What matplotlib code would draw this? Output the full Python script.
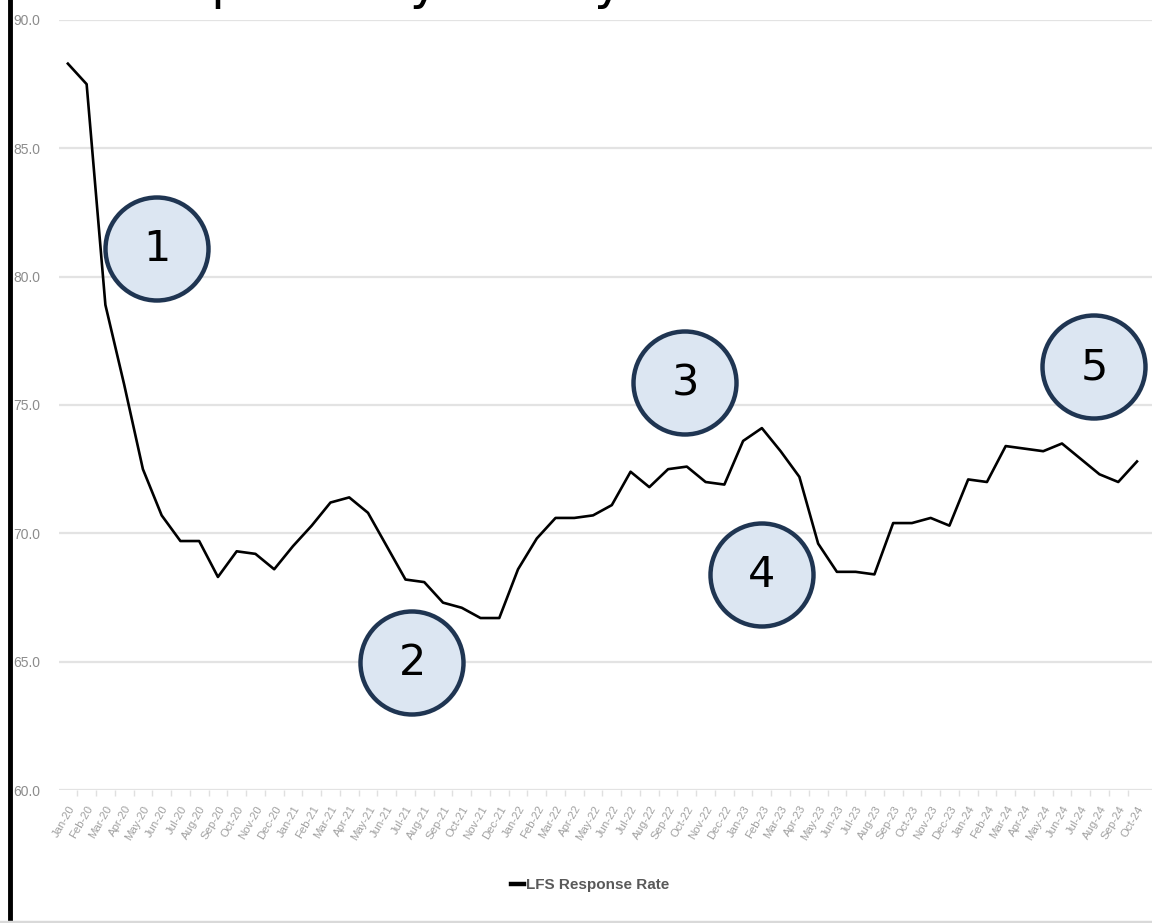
import matplotlib
matplotlib.use("Agg")
import matplotlib.pyplot as plt
from matplotlib.patches import Circle
from matplotlib.lines import Line2D

# ====== DATA ======
months = ["Jan", "Feb", "Mar", "Apr", "May", "Jun",
          "Jul", "Aug", "Sep", "Oct", "Nov", "Dec"]
years = ["20", "21", "22", "23", "24"]
labels = [m + "-" + y for y in years for m in months][:58]  # Jan-20 .. Oct-24

response_rate = [
    88.3, 87.5, 78.9, 75.8, 72.5, 70.7, 69.7, 69.7, 68.3, 69.3, 69.2, 68.6,   # 2020
    69.5, 70.3, 71.2, 71.4, 70.8, 69.5, 68.2, 68.1, 67.3, 67.1, 66.7, 66.7,   # 2021
    68.6, 69.8, 70.6, 70.6, 70.7, 71.1, 72.4, 71.8, 72.5, 72.6, 72.0, 71.9,   # 2022
    73.6, 74.1, 73.2, 72.2, 69.6, 68.5, 68.5, 68.4, 70.4, 70.4, 70.6, 70.3,   # 2023
    72.1, 72.0, 73.4, 73.3, 73.2, 73.5, 72.9, 72.3, 72.0, 72.8,               # 2024
]
y_ticks = [60, 65, 70, 75, 80, 85, 90]
callout_numbers = ["1", "2", "3", "4", "5"]
# ==================

NARROW = ["Liberation Sans", "DejaVu Sans"]
W, H, DPI = 1152, 923, 100
fig = plt.figure(figsize=(W / DPI, H / DPI), dpi=DPI)

ax = fig.add_axes([58.5 / W, 133 / H, 1093.5 / W, 770 / H])
x = list(range(len(response_rate)))
ax.plot(x, response_rate, color="black", lw=1.9, label="LFS Response Rate", zorder=3)

ax.set_ylim(60, 90)
ax.set_xlim(-0.5, 57.8)
ax.set_yticks(y_ticks)
ax.set_yticklabels(["%.1f" % v for v in y_ticks], color="#8c8c8c", fontsize=10,
                   family=NARROW)
ax.tick_params(axis="y", length=0, pad=13)
ax.grid(axis="y", color="#e3e3e3", lw=1.6)
ax.set_axisbelow(True)
for s in ax.spines.values():
    s.set_visible(False)

ax.set_xticks(x)
ax.set_xticklabels(labels, rotation=60, ha="right", va="top", rotation_mode="anchor",
                   fontsize=8.2, color="#a0a0a0", family=NARROW)
ax.tick_params(axis="x", length=0, pad=10)
ax.set_xticks([i + 0.5 for i in x[:-1]], minor=True)
ax.tick_params(axis="x", which="minor", length=4, color="#e0e0e0", width=1)

# legend at bottom
leg = fig.legend(loc="center", bbox_to_anchor=(590 / W, 1 - 885 / H), frameon=False,
                 handlelength=0.9, handletextpad=0.1,
                 prop={"family": NARROW, "weight": "bold", "size": 11})
for t in leg.get_texts():
    t.set_color("#595959")
for h in leg.legend_handles:
    h.set_linewidth(3.2)

# numbered callout circles (pixel positions in the figure)
circle_pos = [(157, 249), (412, 663), (685, 383), (762, 575), (1094, 367)]
for num, (cx, cy) in zip(callout_numbers, circle_pos):
    c = Circle((cx / DPI, (H - cy) / DPI), 0.515, transform=fig.dpi_scale_trans,
               facecolor="#dce6f2", edgecolor="#1f3552", lw=3.2, zorder=5)
    fig.add_artist(c)
    fig.text(cx / W, 1 - cy / H, num, ha="center", va="center", fontsize=31,
             color="black", zorder=6)

# title cut off by the top edge in the reference, only descenders show
fig.text(122 / W, 1 + 1 / H, "Response by survey month",
         ha="left", va="baseline", fontsize=36, color="black")

# left black border and bottom grey rule
fig.add_artist(Line2D([9.5 / W, 9.5 / W], [0, 1], color="black", lw=3.5))
fig.add_artist(Line2D([0, 1], [1.5 / H, 1.5 / H], color="#d9d9d9", lw=2.5))

fig.savefig("out.png", dpi=DPI)
